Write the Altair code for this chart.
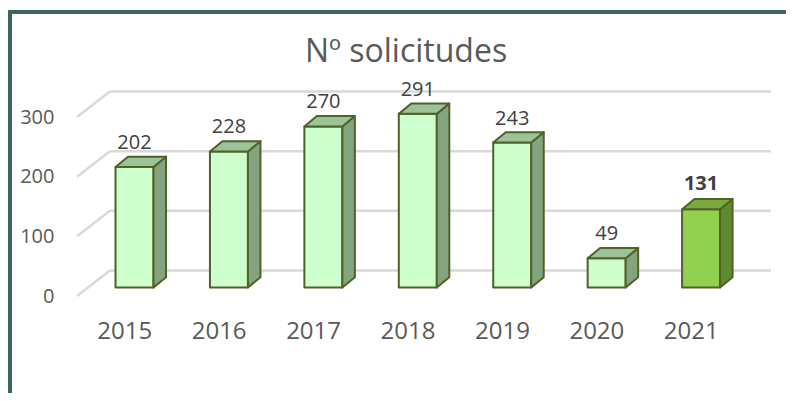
import altair as alt
import pandas as pd

# ---- data ----
years = ["2015", "2016", "2017", "2018", "2019", "2020", "2021"]
values = [202, 228, 270, 291, 243, 49, 131]
y_ticks = [0, 100, 200, 300]
title_text = "Nº solicitudes"
highlight_year = "2021"

# ---- layout / style constants ----
W, H = 778, 385
X_RANGE = [69, 730]      # front plane, px
Y_RANGE = [288, 109]     # value 0 -> 300, px
Y_DOMAIN = [0, 300]
PX_X = (X_RANGE[1] - X_RANGE[0]) / len(years)
PX_Y = (Y_RANGE[0] - Y_RANGE[1]) / (Y_DOMAIN[1] - Y_DOMAIN[0])

BAR_W = 38
HALF_W = BAR_W / 2 / PX_X
DEPTH_DX = 12.5 / PX_X
DEPTH_DY = 10.3 / PX_Y
BAR_SX, BAR_SY = 10.3, -8.5
WALL_DX, WALL_DY = 33, -25.5

FONT = "Open Sans"
STROKE = "#4F6228"
GRID = "#D9D9D9"
FRAME = "#3B6661"

# ---- tables ----
bars = pd.DataFrame({
    "year": years,
    "value": values,
    "pos": [i + 0.5 for i in range(len(years))],
})
bars["xl"] = bars["pos"] - HALF_W
bars["xr"] = bars["pos"] + HALF_W
bars["zero"] = 0

side_rows, top_rows = [], []
for y, v, p in zip(years, values, bars["pos"]):
    for k in (0, 1):
        side_rows.append({"year": y, "x": p + HALF_W + k * DEPTH_DX,
                          "y0": k * DEPTH_DY, "y1": v + k * DEPTH_DY})
        top_rows.append({"year": y, "yt": v + k * DEPTH_DY,
                         "xl": p - HALF_W + k * DEPTH_DX,
                         "xr": p + HALF_W + k * DEPTH_DX})
side = pd.DataFrame(side_rows)
top = pd.DataFrame(top_rows)

grid = pd.DataFrame({"v": y_ticks, "x0": [0] * len(y_ticks),
                     "x1": [len(years)] * len(y_ticks)})

xs = alt.Scale(domain=[0, len(years)], range=X_RANGE, nice=False, zero=False)
ys = alt.Scale(domain=Y_DOMAIN, range=Y_RANGE, nice=False, zero=False)

label_expr = "[" + ",".join("'%s'" % y for y in years) + "][floor(datum.value)]"
xaxis = alt.Axis(values=[i + 0.5 for i in range(len(years))], labelExpr=label_expr,
                 domain=False, ticks=False, grid=False, title=None,
                 labelFont=FONT, labelFontSize=24, labelColor="#595959",
                 labelBaseline="alphabetic", labelPadding=0, offset=-55,
                 labelFlush=False, labelOverlap=False)
yaxis = alt.Axis(values=y_ticks, domain=False, ticks=False, grid=False, title=None,
                 labelFont=FONT, labelFontSize=20, labelColor="#595959",
                 labelPadding=0, offset=-46)

is_hi = alt.datum.year == highlight_year

back_grid = alt.Chart(grid).mark_rule(
    color=GRID, strokeWidth=2.5, xOffset=WALL_DX, x2Offset=WALL_DX, yOffset=WALL_DY
).encode(
    x=alt.X("x0:Q", scale=xs, axis=xaxis),
    x2="x1:Q",
    y=alt.Y("v:Q", scale=ys, axis=yaxis),
)

side_wall = alt.Chart(grid).mark_rule(
    color=GRID, strokeWidth=2.5, x2Offset=WALL_DX, y2Offset=WALL_DY
).encode(
    x=alt.X("x0:Q", scale=xs, axis=xaxis),
    x2="x0:Q",
    y=alt.Y("v:Q", scale=ys, axis=yaxis),
    y2="v:Q",
)

front = alt.Chart(bars).mark_rect(
    stroke=STROKE, strokeWidth=2, strokeJoin="round",
    xOffset=BAR_SX, x2Offset=BAR_SX, yOffset=BAR_SY, y2Offset=BAR_SY
).encode(
    x=alt.X("xl:Q", scale=xs, axis=xaxis),
    x2="xr:Q",
    y=alt.Y("value:Q", scale=ys, axis=yaxis),
    y2="zero:Q",
    fill=alt.condition(is_hi, alt.value("#92D050"), alt.value("#CCFFCC")),
)

side_face = alt.Chart(side).mark_area(
    orient="vertical", stroke=STROKE, strokeWidth=2, strokeJoin="round",
    xOffset=BAR_SX, yOffset=BAR_SY, y2Offset=BAR_SY
).encode(
    x=alt.X("x:Q", scale=xs, axis=xaxis),
    y=alt.Y("y1:Q", scale=ys, axis=yaxis, stack=None),
    y2="y0:Q",
    detail="year:N",
    fill=alt.condition(is_hi, alt.value("#5E8B30"), alt.value("#84A47F")),
)

top_face = alt.Chart(top).mark_area(
    orient="horizontal", stroke=STROKE, strokeWidth=2, strokeJoin="round",
    xOffset=BAR_SX, x2Offset=BAR_SX, yOffset=BAR_SY
).encode(
    y=alt.Y("yt:Q", scale=ys, axis=yaxis),
    x=alt.X("xl:Q", scale=xs, axis=xaxis, stack=None),
    x2="xr:Q",
    detail="year:N",
    fill=alt.condition(is_hi, alt.value("#79AB3C"), alt.value("#9DC39A")),
)

labels = alt.Chart(bars).transform_filter(~is_hi).mark_text(
    font=FONT, fontSize=20, color="#404040", baseline="alphabetic",
    dx=BAR_SX, dy=BAR_SY - 18
).encode(
    x=alt.X("pos:Q", scale=xs, axis=xaxis),
    y=alt.Y("value:Q", scale=ys, axis=yaxis),
    text="value:Q",
)

labels_hi = alt.Chart(bars).transform_filter(is_hi).mark_text(
    font=FONT, fontSize=20, fontWeight="bold", color="#404040", baseline="alphabetic",
    dx=BAR_SX, dy=BAR_SY - 19
).encode(
    x=alt.X("pos:Q", scale=xs, axis=xaxis),
    y=alt.Y("value:Q", scale=ys, axis=yaxis),
    text="value:Q",
)

frame_df = pd.DataFrame({"k": [0]})
frame_top = alt.Chart(frame_df).mark_rule(color=FRAME, strokeWidth=4).encode(
    x=alt.value(0), x2=alt.value(W), y=alt.value(4)
)
frame_left = alt.Chart(frame_df).mark_rule(color=FRAME, strokeWidth=4).encode(
    x=alt.value(2), y=alt.value(2), y2=alt.value(H)
)

chart = alt.layer(
    back_grid, side_wall, front, side_face, top_face, labels, labels_hi,
    frame_top, frame_left
).properties(
    width=W, height=H,
    autosize=alt.AutoSizeParams(type="none"),
    padding=0,
    title=alt.TitleParams(
        title_text, anchor="middle", frame="group", font=FONT, fontSize=32,
        fontWeight="normal", color="#595959", baseline="alphabetic",
        offset=0, dy=86, dx=9
    ),
).configure_view(stroke=None)

chart.save("out.html", embed_options={"renderer": "svg", "actions": False})
